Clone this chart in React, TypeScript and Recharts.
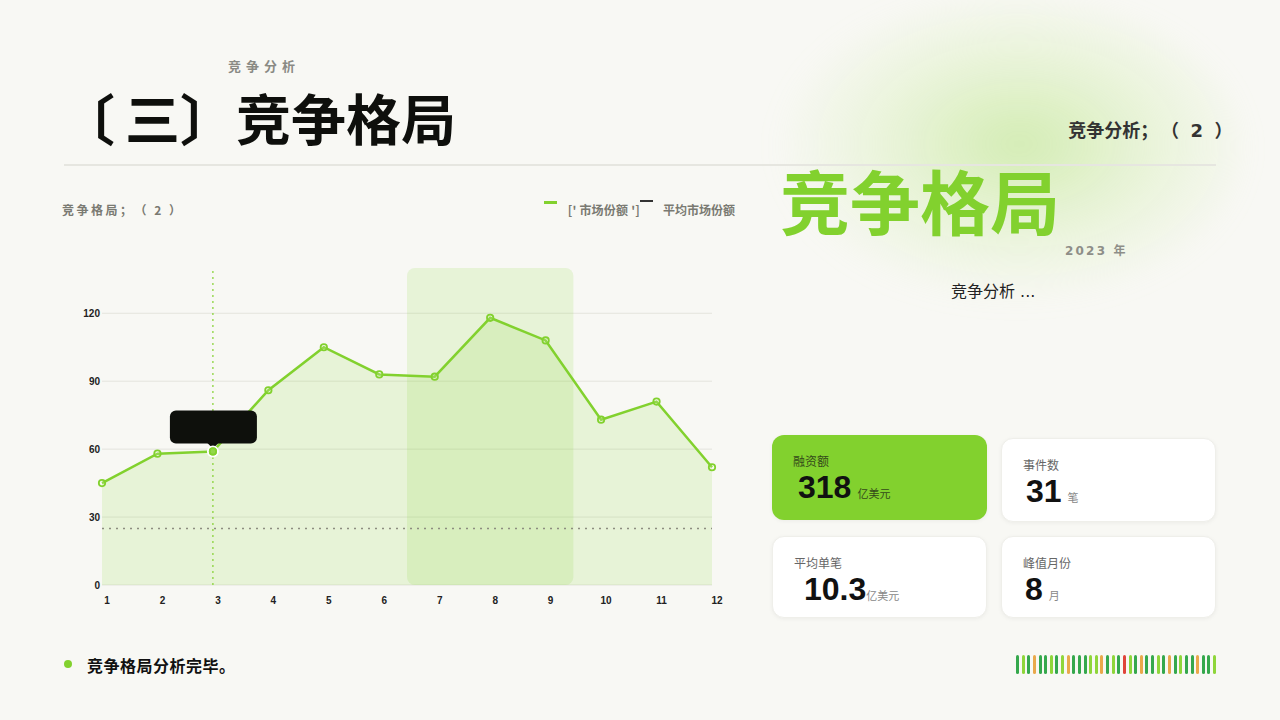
import React from 'react';
import {
  ComposedChart,
  Area,
  Line,
  XAxis,
  YAxis,
  CartesianGrid,
  Legend,
  ReferenceArea,
  ReferenceLine,
  ReferenceDot,
} from 'recharts';

// chart data
const months = [1, 2, 3, 4, 5, 6, 7, 8, 9, 10, 11, 12];
const marketShare = [45, 58, 59, 86, 105, 93, 92, 118, 108, 73, 81, 52];
const avgShare = [25, 25, 25, 25, 25, 25, 25, 25, 25, 25, 25, 25];
const yTicks = [0, 30, 60, 90, 120];
const legendLabels = ["[' 市场份额 ']", '平均市场份额'];
const highlightFrom = 6.5;
const highlightTo = 9.5;
const focusMonth = 3;

// summary cards
const statLabels = ['融资额', '事件数', '平均单笔', '峰值月份'];
const statValues = ['318', '31', '10.3', '8'];
const statUnits = ['亿美元', '笔', '亿美元', '月'];

// decorative stripe colours: d = dark green, l = light green, o = orange, r = red
const stripe = [
  'd', 'l', 'd', 'o', 'd', 'd', 'l', 'd', 'l', 'o', 'd', 'd',
  'd', 'l', 'l', 'o', 'd', 'l', 'd', 'r', 'l', 'd', 'o', 'd',
  'd', 'l', 'd', 'o', 'd', 'l', 'd', 'd', 'o', 'd', 'd', 'l',
];

const GREEN = '#82d12e';
const CJK = '"Noto Sans CJK SC", "Noto Sans", sans-serif';
const MIX = '"DejaVu Sans", "Noto Sans CJK SC", sans-serif';
const NARROW = '"Liberation Sans Narrow", "Liberation Sans", Arial, sans-serif';

const stripeColors: Record<string, string> = {
  d: '#35a84c',
  l: '#8fd63a',
  o: '#e9a94b',
  r: '#e0443a',
};

const chartData = months.map((m, i) => ({
  month: m,
  share: marketShare[i],
  avg: avgShare[i],
}));

const TooltipMarker = (props: any) => {
  const { cx, cy } = props;
  return (
    <g>
      <rect x={cx - 43} y={cy - 41} width={87} height={33} rx={6} fill="#0e100c" />
      <path d={`M${cx - 6},${cy - 9} L${cx + 6},${cy - 9} L${cx},${cy - 3} Z`} fill="#0e100c" />
      <circle cx={cx} cy={cy} r={5} fill={GREEN} stroke="#ffffff" strokeWidth={2} />
    </g>
  );
};

const renderLegend = () => (
  <div
    style={{
      display: 'flex',
      fontSize: 12,
      fontWeight: 700,
      color: '#7a7a72',
      fontFamily: CJK,
      lineHeight: '16px',
      whiteSpace: 'nowrap',
    }}
  >
    <span style={{ display: 'flex', alignItems: 'flex-start' }}>
      <span style={{ width: 13, height: 3, background: GREEN, marginTop: 11, marginRight: 11 }} />
      <span style={{ marginTop: 12, letterSpacing: 0.2 }}>{legendLabels[0]}</span>
    </span>
    <span style={{ display: 'flex', alignItems: 'flex-start' }}>
      <span style={{ width: 13, height: 2, background: '#333', marginTop: 10, marginRight: 10 }} />
      <span style={{ marginTop: 12 }}>{legendLabels[1]}</span>
    </span>
  </div>
);

const cardBoxes = [
  { left: 772, top: 435, height: 85, valueLeft: 26, bg: GREEN, labelColor: '#34491a', unitColor: '#34491a' },
  { left: 1001, top: 438, height: 84, valueLeft: 24, bg: '#ffffff', labelColor: '#666', unitColor: '#888' },
  { left: 772, top: 536, height: 82, valueLeft: 31, bg: '#ffffff', labelColor: '#666', unitColor: '#888' },
  { left: 1001, top: 536, height: 82, valueLeft: 23, bg: '#ffffff', labelColor: '#666', unitColor: '#888' },
];

const titleStyle: React.CSSProperties = {
  position: 'absolute',
  top: 80,
  fontSize: 55,
  fontWeight: 700,
  color: '#0e0f0c',
  lineHeight: '72px',
  whiteSpace: 'nowrap',
};

export default function App() {
  return (
    <div
      style={{
        position: 'fixed',
        left: 0,
        top: 0,
        width: 1280,
        height: 720,
        background: '#f8f8f4',
        overflow: 'hidden',
        fontFamily: CJK,
        textSpacingTrim: 'space-all',
      } as React.CSSProperties}
    >
      {/* soft green glow */}
      <div
        style={{
          position: 'absolute',
          left: 780,
          top: 0,
          width: 460,
          height: 300,
          borderRadius: '50%',
          background:
            'radial-gradient(ellipse at 52% 48%, rgba(175,225,115,0.5) 0%, rgba(205,236,165,0.32) 40%, rgba(248,248,244,0) 72%)',
          filter: 'blur(14px)',
        }}
      />

      <div
        style={{
          position: 'absolute',
          left: 228,
          top: 56,
          fontSize: 13,
          fontWeight: 700,
          letterSpacing: 5,
          color: '#8a8a84',
        }}
      >
        竞争分析
      </div>
      <span style={{ ...titleStyle, left: 60 }}>〔</span>
      <span style={{ ...titleStyle, left: 125 }}>三</span>
      <span style={{ ...titleStyle, left: 180 }}>〕</span>
      <span style={{ ...titleStyle, left: 236 }}>竞争格局</span>

      <div
        style={{
          position: 'absolute',
          right: 45,
          top: 116,
          fontSize: 18,
          fontWeight: 700,
          color: '#333',
          fontFamily: MIX,
          whiteSpace: 'nowrap',
        }}
      >
        竞争分析<span style={{ letterSpacing: 2.6 }}>；（ 2 ）</span>
      </div>

      <div style={{ position: 'absolute', left: 64, top: 164, width: 1152, height: 1.5, background: '#e6e6e0' }} />

      <div
        style={{
          position: 'absolute',
          left: 780,
          top: 154,
          fontSize: 70,
          fontWeight: 700,
          color: GREEN,
          lineHeight: '92px',
        }}
      >
        竞争格局
      </div>
      <div
        style={{
          position: 'absolute',
          left: 1065,
          top: 241,
          fontSize: 12,
          fontWeight: 700,
          letterSpacing: 2.2,
          color: '#8e8e88',
          fontFamily: MIX,
        }}
      >
        2023 年
      </div>
      <div
        style={{
          position: 'absolute',
          left: 951,
          top: 278,
          fontSize: 16,
          color: '#222',
          fontFamily: MIX,
        }}
      >
        竞争分析 ...
      </div>

      <div
        style={{
          position: 'absolute',
          left: 62,
          top: 201,
          fontSize: 12,
          fontWeight: 700,
          letterSpacing: 2.5,
          color: '#7a7a72',
          whiteSpace: 'nowrap',
        }}
      >
        竞争格局；（ 2 ）
      </div>

      <div style={{ position: 'absolute', left: 50, top: 190 }}>
        <ComposedChart
          width={690}
          height={430}
          data={chartData}
          margin={{ top: 78, right: 28, bottom: 5, left: 0 }}
        >
          <CartesianGrid vertical={false} stroke="#e4e4dd" horizontalValues={yTicks} />
          <ReferenceArea
            x1={highlightFrom}
            x2={highlightTo}
            fill={GREEN}
            fillOpacity={0.14}
            stroke="none"
            radius={8}
          />
          <XAxis
            dataKey="month"
            type="number"
            domain={[1, 12]}
            ticks={months}
            interval={0}
            tickLine={false}
            axisLine={false}
            tickMargin={6}
            height={30}
            tick={{ fontSize: 10, fontWeight: 700, fill: '#222', fontFamily: NARROW, dx: 5 }}
          />
          <YAxis
            domain={[0, 140]}
            ticks={yTicks}
            width={52}
            tickLine={false}
            axisLine={false}
            tickSize={0}
            tickMargin={2}
            tick={{ fontSize: 10, fontWeight: 700, fill: '#222', fontFamily: NARROW }}
          />
          <Legend
            verticalAlign="middle"
            align="center"
            layout="horizontal"
            content={renderLegend}
            wrapperStyle={{ top: 0, right: 5, left: 'auto', width: 'auto' }}
          />
          <Area
            type="linear"
            dataKey="share"
            stroke={GREEN}
            strokeWidth={2.5}
            fill={GREEN}
            fillOpacity={0.14}
            dot={{ r: 3.2, fill: '#ffffff', stroke: GREEN, strokeWidth: 1.8 }}
            activeDot={false}
            isAnimationActive={false}
          />
          <Line
            type="linear"
            dataKey="avg"
            stroke="#8d8d80"
            strokeWidth={1.5}
            strokeDasharray="2 5"
            dot={false}
            activeDot={false}
            isAnimationActive={false}
          />
          <ReferenceLine x={focusMonth} stroke={GREEN} strokeWidth={1.2} strokeDasharray="2 4" />
          <ReferenceDot
            x={focusMonth}
            y={marketShare[focusMonth - 1]}
            r={5}
            shape={TooltipMarker}
          />
        </ComposedChart>
      </div>

      {cardBoxes.map((b, i) => (
        <div
          key={statLabels[i]}
          style={{
            position: 'absolute',
            left: b.left,
            top: b.top,
            width: 215,
            height: b.height,
            background: b.bg,
            borderRadius: 12,
            boxShadow: '0 1px 4px rgba(0,0,0,0.05)',
            border: b.bg === '#ffffff' ? '1px solid #efefea' : 'none',
            boxSizing: 'border-box',
          }}
        >
          <div
            style={{
              position: 'absolute',
              left: 21,
              top: 18,
              fontSize: 12,
              lineHeight: '16px',
              color: b.labelColor,
            }}
          >
            {statLabels[i]}
          </div>
          <div
            style={{
              position: 'absolute',
              left: b.valueLeft,
              top: 36,
              display: 'flex',
              alignItems: 'baseline',
              whiteSpace: 'nowrap',
              lineHeight: '32px',
            }}
          >
            <span
              style={{
                fontSize: 32,
                fontWeight: 700,
                color: '#111',
                fontFamily: '"Liberation Sans", Arial, sans-serif',
              }}
            >
              {statValues[i]}
            </span>
            <span style={{ fontSize: 11, lineHeight: '12px', color: b.unitColor, marginLeft: i === 2 ? 0 : 6 }}>
              {statUnits[i]}
            </span>
          </div>
        </div>
      ))}

      <div
        style={{
          position: 'absolute',
          left: 64,
          top: 660,
          width: 8,
          height: 8,
          borderRadius: 4,
          background: GREEN,
        }}
      />
      <div
        style={{
          position: 'absolute',
          left: 87,
          top: 653,
          fontSize: 16,
          fontWeight: 700,
          color: '#111',
          letterSpacing: 0.5,
        }}
      >
        竞争格局分析完毕。
      </div>

      {stripe.map((c, i) => (
        <div
          key={i}
          style={{
            position: 'absolute',
            left: 1016 + i * 5.63,
            top: 655,
            width: 3,
            height: 19,
            borderRadius: 1.5,
            background: stripeColors[c],
          }}
        />
      ))}
    </div>
  );
}
